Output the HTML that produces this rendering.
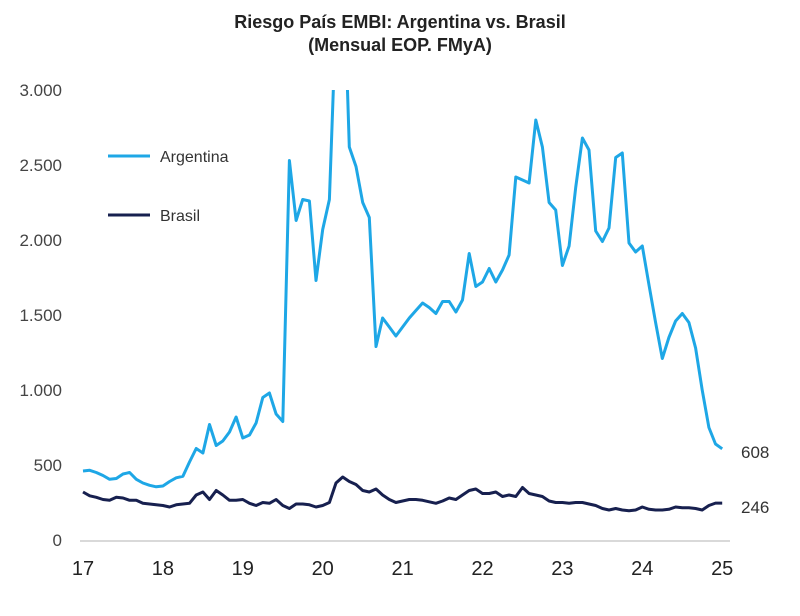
<!DOCTYPE html>
<html><head><meta charset="utf-8"><style>
body{margin:0;background:#fff;font-family:"Liberation Sans",Arial,sans-serif}
svg{display:block}
</style></head><body>
<svg id="chart" width="800" height="616">
<text x="400" y="28" text-anchor="middle" font-size="18" font-weight="bold" fill="#222">Riesgo País EMBI: Argentina vs. Brasil</text>
<text x="400" y="51" text-anchor="middle" font-size="18" font-weight="bold" fill="#222">(Mensual EOP. FMyA)</text>
<defs><clipPath id="plot"><rect x="70" y="90" width="700" height="460"/></clipPath></defs>
<line x1="80" y1="541" x2="730" y2="541" stroke="#d9d9d9" stroke-width="2"/>
<g id="yt"></g><g id="xt"></g>
<g clip-path="url(#plot)" id="lines"></g>
<line x1="108" y1="156" x2="150" y2="156" stroke="#1ea7e6" stroke-width="3"/>
<text x="160" y="162" font-size="16" fill="#333">Argentina</text>
<line x1="108" y1="215" x2="150" y2="215" stroke="#17204f" stroke-width="3"/>
<text x="160" y="221" font-size="16" fill="#333">Brasil</text>
<text id="lblA" x="741" y="458" font-size="17" fill="#333"></text>
<text id="lblB" x="741" y="513" font-size="17" fill="#333"></text>
</svg>
<script>
const yTicks=[0,500,1000,1500,2000,2500,3000];
const yTickLabels=["0","500","1.000","1.500","2.000","2.500","3.000"];
const xTicks=[17,18,19,20,21,22,23,24,25];
const argentina=[460,465,450,430,405,410,440,450,405,380,365,355,
360,390,415,425,520,610,580,770,630,660,720,820,
680,700,780,950,980,840,790,2530,2130,2270,2260,1730,
2070,2270,3500,4000,2620,2490,2250,2150,1290,1480,1420,1360,
1420,1480,1530,1580,1550,1510,1590,1590,1520,1600,1910,1690,
1720,1810,1720,1800,1900,2420,2400,2380,2800,2620,2250,2200,
1830,1960,2350,2680,2600,2060,1990,2080,2550,2580,1980,1920,
1960,1700,1450,1210,1350,1460,1510,1450,1280,1000,750,640,608];
const brasil=[320,295,285,270,265,285,280,265,265,245,240,235,
230,220,235,240,245,300,320,270,330,300,265,265,
270,245,230,250,245,270,230,210,240,240,235,220,
230,250,380,420,390,370,330,320,340,300,270,250,
260,270,270,265,255,245,260,280,270,300,330,340,
310,310,320,290,300,290,350,310,300,290,260,250,
250,245,250,250,240,230,210,200,210,200,195,200,
220,205,200,200,205,220,215,215,210,200,230,246,246];
const NS="http://www.w3.org/2000/svg";
const yS=v=>540-v*0.15;
const xS=yr=>83+(yr-17)*79.9;
const xM=i=>xS(17+i/12);
const yt=document.getElementById('yt'),xt=document.getElementById('xt'),lg=document.getElementById('lines');
yTicks.forEach((v,i)=>{const t=document.createElementNS(NS,'text');
t.setAttribute('x',62);t.setAttribute('y',yS(v)+6);t.setAttribute('text-anchor','end');
t.setAttribute('font-size','17');t.setAttribute('fill','#444');t.textContent=yTickLabels[i];


yt.appendChild(t);});
xTicks.forEach(v=>{const t=document.createElementNS(NS,'text');
t.setAttribute('x',xS(v));t.setAttribute('y',575);t.setAttribute('text-anchor','middle');
t.setAttribute('font-size','20');t.setAttribute('fill','#222');t.textContent=v;


xt.appendChild(t);});
function line(d,c,n){const p=document.createElementNS(NS,'polyline');
p.setAttribute('points',d.map((v,i)=>xM(i).toFixed(1)+','+yS(v).toFixed(1)).join(' '));
p.setAttribute('fill','none');p.setAttribute('stroke',c);p.setAttribute('stroke-width','3');p.setAttribute('stroke-linejoin','round');


lg.appendChild(p);}
line(argentina,'#1ea7e6','argentina-line');
line(brasil,'#17204f','brasil-line');
document.getElementById('lblA').textContent=argentina[argentina.length-1];
document.getElementById('lblB').textContent=brasil[brasil.length-1];
</script>
</body></html>
